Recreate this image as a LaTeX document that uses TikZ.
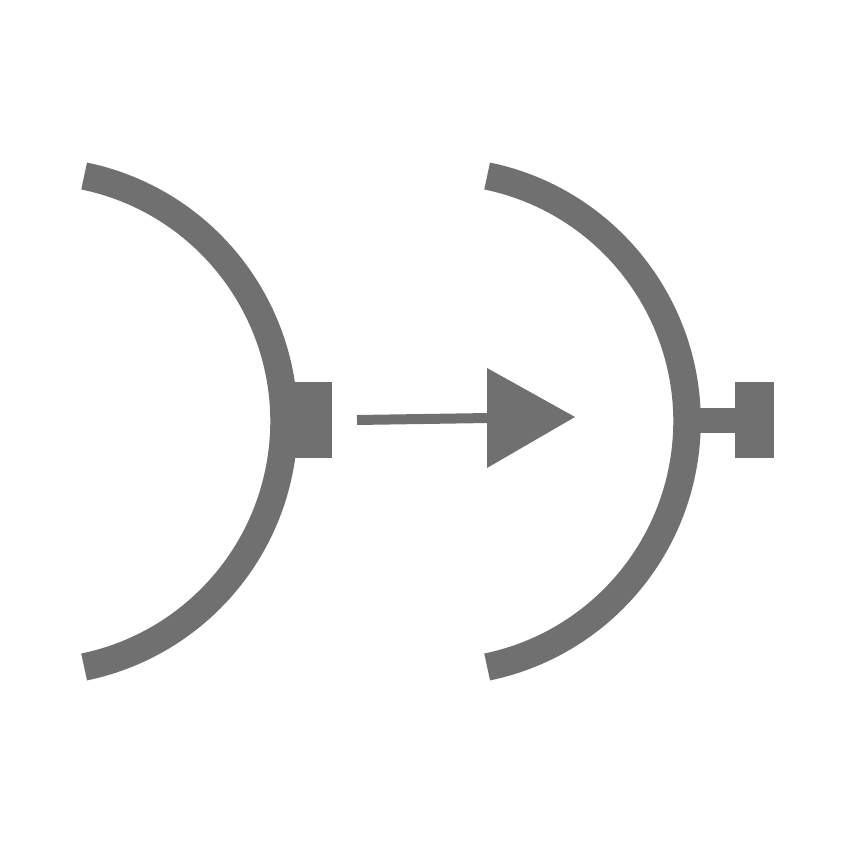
\documentclass[tikz,border=0pt]{standalone}
\usetikzlibrary{arrows}
\usetikzlibrary{calc}
\definecolor{icongray}{RGB}{112,112,112}
\begin{document}
\begin{tikzpicture}[x=1pt,y=1pt]
	\useasboundingbox (0,0) rectangle (845,845);
	\draw[icongray,line width=27.5pt](33.3,423.5)++(78.3:250.7) arc (78.3:-78.3:250.7);
	\fill[icongray](290,387) rectangle (332,463);
	
	\draw[icongray,line width=27.5pt](436.3,423.5)++(78.3:250.7) arc (78.3:-78.3:250.7);
	\fill[icongray](695,412) rectangle (736,437);
	\fill[icongray](735,387) rectangle (774,463);
	
	\coordinate (S) at (357,425);
	\coordinate (T) at (490,427);
	\draw[icongray,line width=10pt](S)--(T);
	\fill[icongray](487,477)--(575,428)--(487,377)--cycle;
	
	
\end{tikzpicture}
\end{document}
